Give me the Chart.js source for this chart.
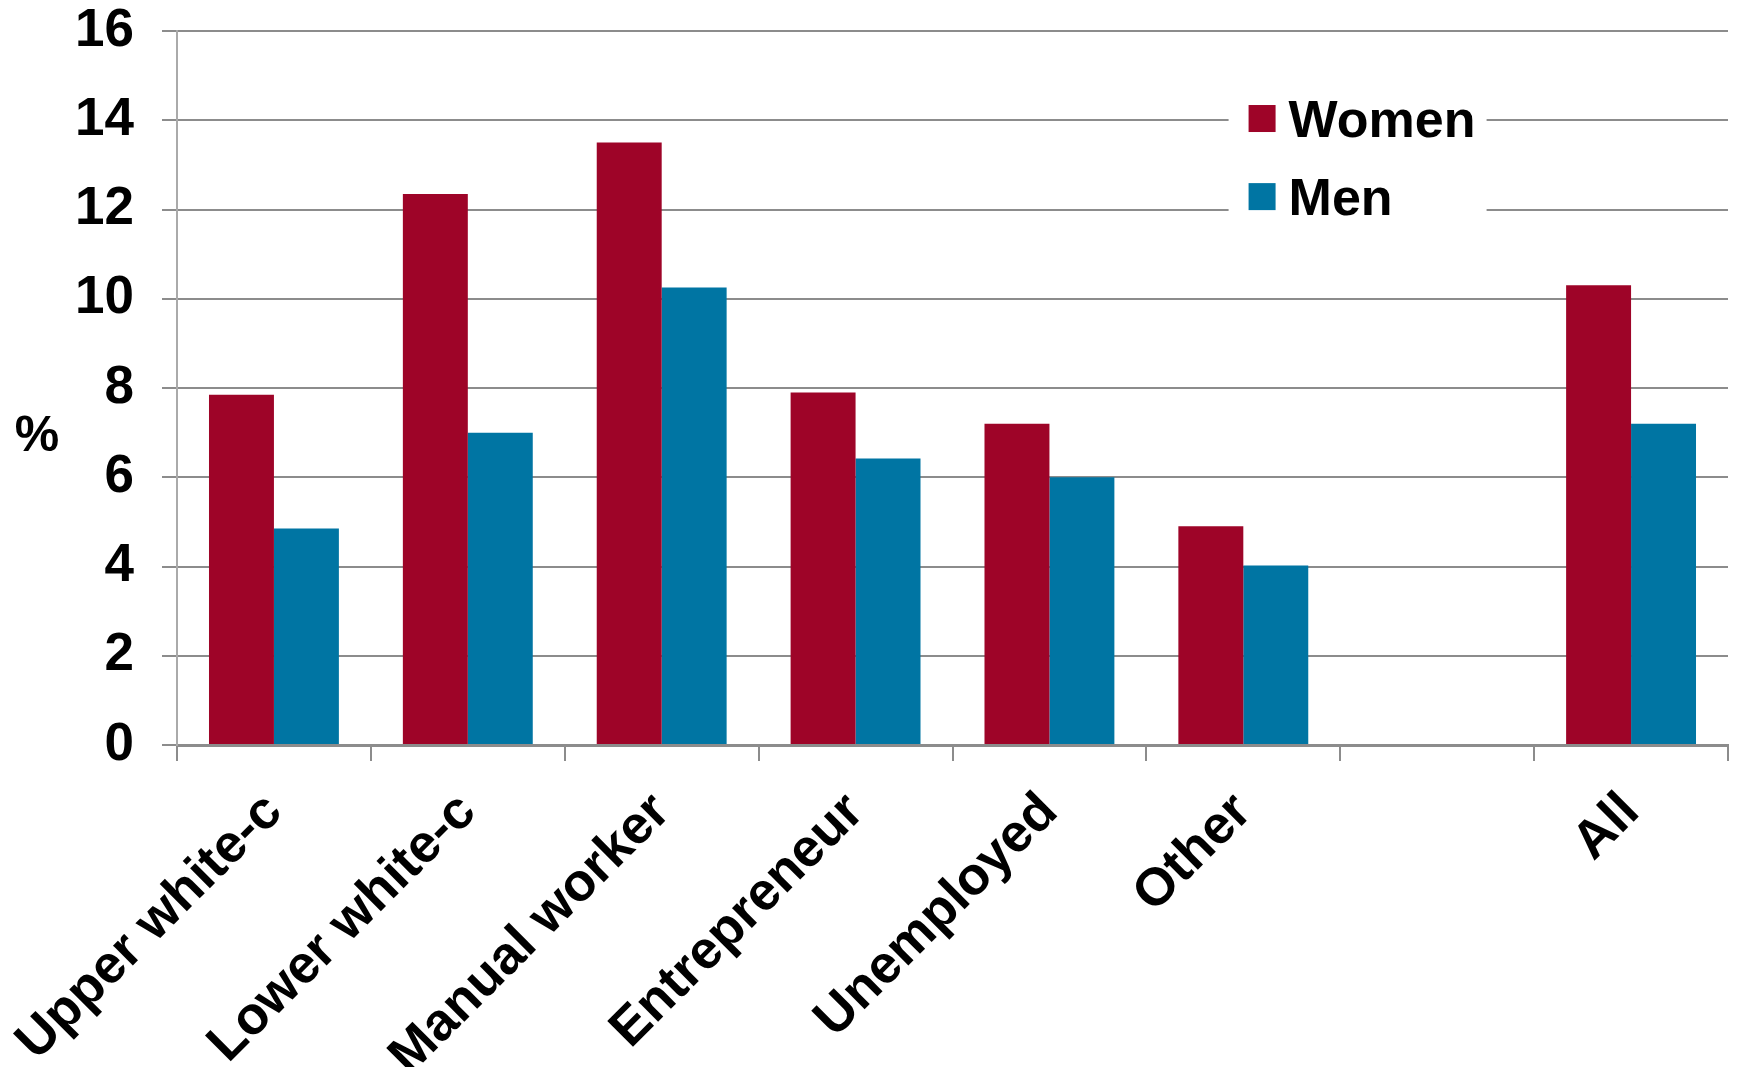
<!DOCTYPE html>
<html>
<head>
<meta charset="utf-8">
<script src="https://cdn.jsdelivr.net/npm/chart.js@4"></script>
<style>
  html, body { margin: 0; padding: 0; background: #fff; }
  #wrap { width: 1739px; height: 1067px; }
</style>
</head>
<body>
<div id="wrap"><canvas id="chart"></canvas></div>
<script>
const categories = ["Upper white-c", "Lower white-c", "Manual worker", "Entrepreneur", "Unemployed", "Other", "", "All"];
const women = [7.85, 12.35, 13.5, 7.9, 7.2, 4.9, null, 10.3];
const men = [4.85, 7.0, 10.25, 6.42, 6.0, 4.02, null, 7.2];
const yTicks = [0, 2, 4, 6, 8, 10, 12, 14, 16];

const FONT = "'Liberation Sans', Arial, sans-serif";
const SIZE = 53;
const gridGrey = "#8c8c8c";

// legend box sitting inside the plot, over the gridlines
const insideLegend = {
  id: "insideLegend",
  afterDatasetsDraw(chart) {
    const { ctx, chartArea: a } = chart;
    const y = chart.scales.y;
    const x0 = a.left + (a.right - a.left) * 0.678;
    const top = y.getPixelForValue(14.8);
    const bottom = y.getPixelForValue(11.5);
    const rows = [14.05, 12.3];
    ctx.save();
    ctx.fillStyle = "#fff";
    ctx.fillRect(x0, top, 258, bottom - top);
    ctx.font = "bold 52px " + FONT;
    ctx.textBaseline = "alphabetic";
    chart.data.datasets.forEach((ds, i) => {
      const cy = y.getPixelForValue(rows[i]);
      ctx.fillStyle = ds.backgroundColor;
      ctx.fillRect(x0 + 20, cy - 13, 27, 27);
      ctx.fillStyle = "#000";
      ctx.fillText(ds.label, x0 + 60, cy + 19);
    });
    ctx.restore();
  }
};

// horizontal "%" unit label left of the y ticks
const unitLabel = {
  id: "unitLabel",
  afterDraw(chart) {
    const { ctx } = chart;
    ctx.save();
    ctx.font = "bold 50px " + FONT;
    ctx.fillStyle = "#000";
    ctx.textAlign = "center";
    ctx.textBaseline = "alphabetic";
    ctx.fillText("%", 37, chart.scales.y.getPixelForValue(7) + 18);
    ctx.restore();
  }
};

new Chart(document.getElementById("chart"), {
  type: "bar",
  data: {
    labels: categories,
    datasets: [
      { label: "Women", data: women, backgroundColor: "#9e0428" },
      { label: "Men", data: men, backgroundColor: "#0075a3" }
    ]
  },
  options: {
    responsive: true,
    maintainAspectRatio: false,
    animation: false,
    layout: { padding: { left: 0, right: 11, top: 0, bottom: 0 } },
    datasets: { bar: { categoryPercentage: 0.67, barPercentage: 1.0 } },
    plugins: { legend: { display: false }, tooltip: { enabled: false } },
    scales: {
      x: {
        afterFit(scale) {
          scale.height = 322;
          scale.paddingLeft = 0;
          scale.paddingRight = 0;
        },
        grid: {
          offset: true,
          drawOnChartArea: false,
          drawTicks: true,
          tickLength: 16,
          color: gridGrey,
          lineWidth: 2
        },
        border: { color: gridGrey, width: 3 },
        ticks: {
          color: "#000",
          font: { family: FONT, size: SIZE, weight: "bold" },
          maxRotation: 45,
          minRotation: 45,
          autoSkip: false,
          padding: 20
        }
      },
      y: {
        min: 0,
        max: 16,
        afterFit(scale) {
          scale.width = 177;
          scale.paddingTop = 31;
          scale.paddingBottom = 0;
        },
        afterBuildTicks(scale) {
          scale.ticks = yTicks.map(v => ({ value: v }));
        },
        grid: { color: gridGrey, lineWidth: 2, tickLength: 15 },
        border: { color: "#aaaaaa", width: 2 },
        ticks: {
          color: "#000",
          font: { family: FONT, size: SIZE, weight: "bold" },
          padding: 28
        }
      }
    }
  },
  plugins: [insideLegend, unitLabel]
});
</script>
</body>
</html>
